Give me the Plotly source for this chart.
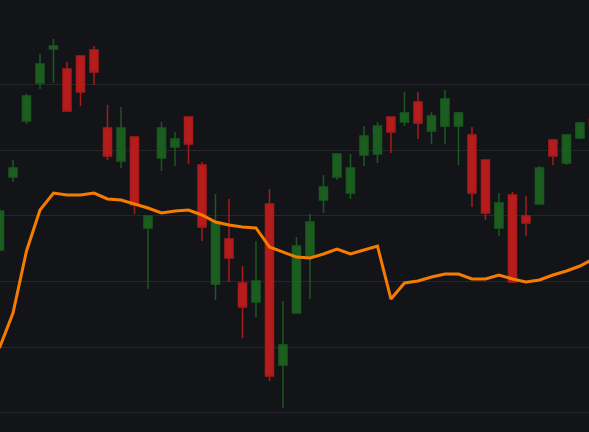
import plotly.graph_objects as go

# candle index (time slot)
idx = list(range(45))

opens = [124.80, 135.93, 144.47, 150.26, 155.44, 152.39, 154.38, 155.29, 143.40, 138.37,
         142.03, 128.16, 138.83, 140.50, 145.08, 137.76, 119.62, 126.48, 119.77, 116.88,
         131.81, 107.27, 115.20, 123.89, 132.42, 135.93, 133.49, 139.28, 139.44, 145.08,
         144.31, 147.36, 142.94, 143.70, 143.70, 142.33, 138.52, 128.16, 133.19, 129.98,
         131.81, 141.57, 138.06, 141.88, 144.77]
highs = [131.20, 138.52, 148.58, 154.68, 156.97, 153.46, 154.38, 155.90, 146.91, 146.60,
         142.03, 129.98, 144.31, 142.79, 145.08, 138.22, 133.34, 132.58, 122.36, 126.17,
         134.10, 117.03, 126.78, 130.29, 136.23, 139.44, 139.44, 143.70, 144.31, 145.08,
         148.89, 148.89, 145.84, 149.19, 145.84, 143.55, 138.52, 133.49, 133.64, 133.03,
         137.61, 141.72, 142.48, 144.31, 145.08]
lows = [124.50, 135.17, 144.01, 149.34, 150.26, 145.99, 146.75, 149.95, 138.52, 137.30,
        130.29, 118.86, 136.84, 137.61, 137.91, 126.17, 117.18, 119.92, 111.39, 114.59,
        104.83, 100.72, 115.20, 117.33, 130.44, 135.47, 132.58, 137.61, 138.06, 139.59,
        143.70, 141.72, 140.96, 140.96, 137.76, 131.36, 129.38, 126.94, 119.77, 126.94,
        131.81, 137.76, 137.76, 141.72, 143.55]
closes = [130.75, 137.30, 148.28, 153.16, 155.90, 145.99, 148.89, 151.94, 139.13, 143.40,
          131.66, 129.98, 143.40, 141.72, 140.96, 128.31, 129.07, 123.58, 116.11, 120.08,
          105.59, 110.32, 125.41, 129.07, 134.41, 139.44, 137.30, 142.18, 143.70, 142.79,
          145.69, 144.16, 145.23, 147.82, 145.69, 133.49, 130.44, 131.97, 119.92, 128.92,
          137.30, 139.13, 142.33, 144.16, 143.86]

indicator = [109.86, 115.20, 124.65, 130.90, 133.49, 133.19, 133.19, 133.49, 132.58, 132.42,
             131.81, 131.20, 130.44, 130.75, 130.90, 130.14, 129.07, 128.61, 128.31, 128.16,
             125.26, 124.50, 123.73, 123.58, 124.19, 124.95, 124.19, 124.80, 125.41, 117.33,
             119.77, 120.08, 120.69, 121.14, 121.14, 120.38, 120.38, 120.99, 120.38, 119.92,
             120.23, 120.99, 121.60, 122.36, 123.43]

grid_levels = [100, 110, 120, 130, 140, 150]

BG = "#131418"

fig = go.Figure()
fig.add_trace(go.Candlestick(
    x=idx, open=opens, high=highs, low=lows, close=closes,
    increasing=dict(fillcolor="#1b5e20", line=dict(color="#1a5a1f", width=1.5)),
    decreasing=dict(fillcolor="#b71c1c", line=dict(color="#a81b1b", width=1.5)),
    whiskerwidth=0,
    showlegend=False,
    hoverinfo="skip",
))
fig.add_trace(go.Scatter(
    x=idx, y=indicator, mode="lines",
    line=dict(color="#f57c00", width=3),
    showlegend=False, hoverinfo="skip",
))

fig.update_layout(
    width=589, height=432,
    margin=dict(l=0, r=0, t=0, b=0),
    paper_bgcolor=BG,
    plot_bgcolor=BG,
    boxgap=0.15,
    xaxis=dict(range=[0.037, 43.67], showgrid=False, zeroline=False,
               showticklabels=False, rangeslider=dict(visible=False),
               showline=False, ticks=""),
    yaxis=dict(range=[97.06, 162.91], tickvals=grid_levels, showticklabels=False,
               gridcolor="#26272b", gridwidth=1, zeroline=False, showline=False, ticks=""),
)

fig.write_html(
    "out.html",
    config={"displayModeBar": False},
    post_script="document.body.style.margin='0';document.body.style.background='%s';"
                "document.body.style.overflow='hidden';" % BG,
)
